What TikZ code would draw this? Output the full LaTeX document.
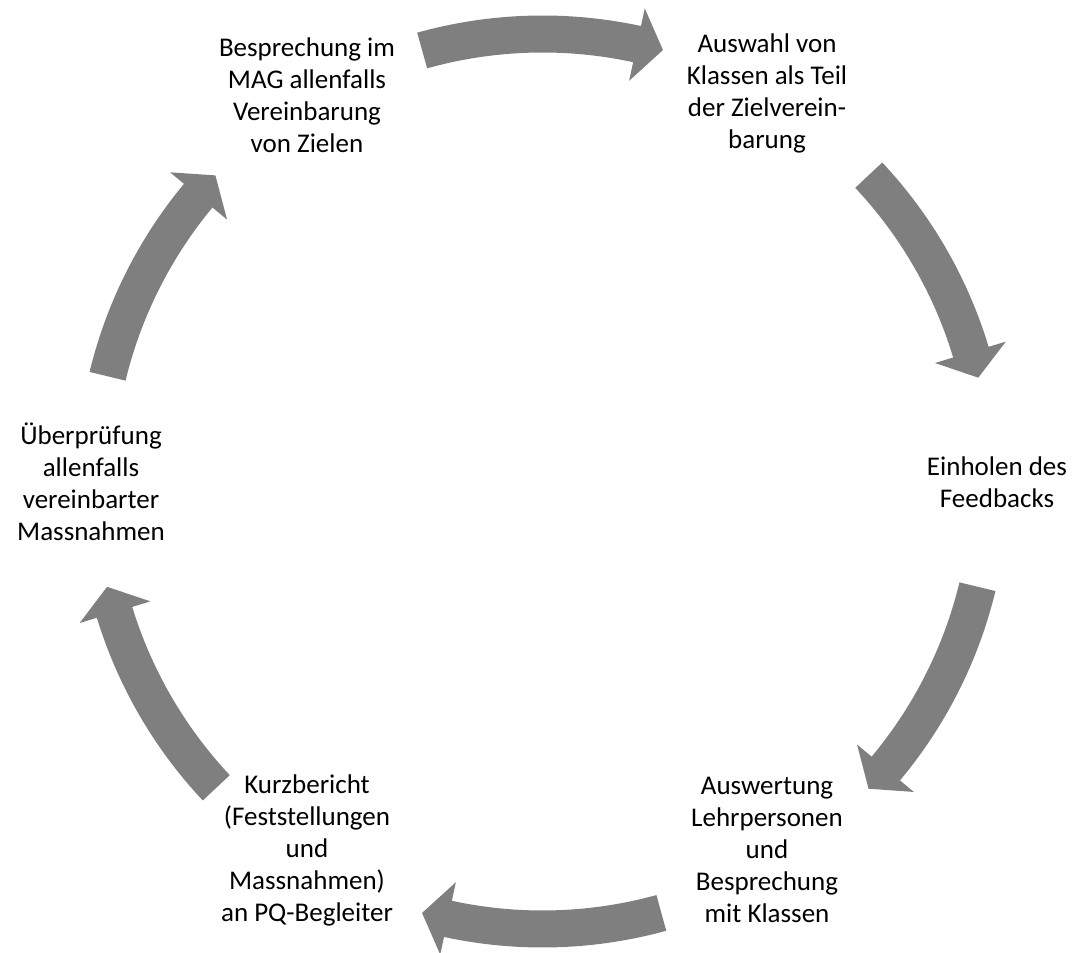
\documentclass[tikz,border=0pt]{standalone}
\usepackage{fontspec}
\setmainfont{Carlito}
\definecolor{arrowgray}{RGB}{127,127,127}
\tikzset{
  steptext/.style={align=center, font=\fontsize{27}{32}\selectfont, inner sep=0pt},
}
% curved block arrow on the circle, from tail angle #1 clockwise to tip angle #2
\newcommand{\cyclearrow}[2]{%
  \fill[arrowgray] (#1:466) arc[start angle=#1, end angle=#2+3.4, radius=466]
    -- (#2+3.4:484) -- (#2:448) -- (#2+3.4:410) -- (#2+3.4:429)
    arc[start angle=#2+3.4, end angle=#1, radius=429] -- cycle;}
\begin{document}
\begin{tikzpicture}[x=1pt,y=1pt]
  \useasboundingbox (0,0) rectangle (1075,952);
  \coordinate (C) at (542.5,470.5);
  \node[steptext] (bespr) at (307,857) {Besprechung im\\MAG allenfalls\\Vereinbarung\\von Zielen};
  \node[steptext] (auswahl) at (767,859) {Auswahl von\\Klassen als Teil\\der Zielverein-\\barung};
  \node[steptext] (einholen) at (997,470) {Einholen des\\Feedbacks};
  \node[steptext] (auswertung) at (767,102) {Auswertung\\Lehrpersonen\\und\\Besprechung\\mit Klassen};
  \node[steptext] (kurz) at (307,102) {Kurzbericht\\(Feststellungen\\und\\Massnahmen)\\an PQ-Begleiter};
  \node[steptext] (ueber) at (91,470) {Überprüfung\\allenfalls\\vereinbarter\\Massnahmen};
  \begin{scope}[shift={(C)}]
    \foreach \t/\h in {105.6/74.4, 43.2/13.4, -13.6/-43.3, -74.6/-105.6, -136.8/-166.4, 166.4/136.9}
      {\cyclearrow{\t}{\h}}
  \end{scope}
\end{tikzpicture}
\end{document}
